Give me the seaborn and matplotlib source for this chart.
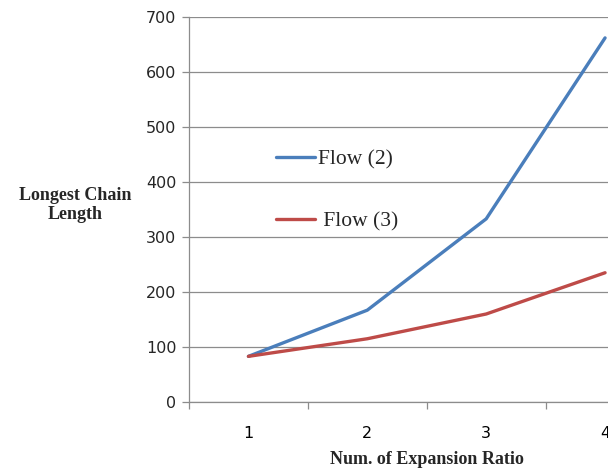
import matplotlib
matplotlib.use("Agg")
import matplotlib.pyplot as plt
import seaborn as sns
import pandas as pd
from matplotlib.ticker import FixedLocator

# Data
ratios = [1, 2, 3, 4]
flow2 = [83, 167, 333, 662]
flow3 = [83, 115, 160, 235]
series_names = ["Flow (2)", "Flow (3)"]
y_ticks = [0, 100, 200, 300, 400, 500, 600, 700]

df = pd.DataFrame({
    "ratio": ratios * 2,
    "length": flow2 + flow3,
    "series": [series_names[0]] * len(ratios) + [series_names[1]] * len(ratios),
})

sns.set_style("white")
plt.rcParams["font.family"] = ["DejaVu Sans"]

fig = plt.figure(figsize=(6.08, 4.73), dpi=100)
# the plot area runs past the right edge of the figure
ax = fig.add_axes([189 / 608, 1 - 402 / 473, 475.5 / 608, 385 / 473])

palette = {series_names[0]: "#4A7EBB", series_names[1]: "#BE4B48"}
sns.lineplot(data=df, x="ratio", y="length", hue="series", palette=palette,
             linewidth=2.4, ax=ax, legend=True)

grid_col = "#8C8C8C"
ax.set_xlim(0.5, 4.5)
ax.set_ylim(0, 700)
ax.set_yticks(y_ticks)
ax.yaxis.grid(True, color=grid_col, linewidth=0.9)
ax.set_axisbelow(True)

ax.set_xticks(ratios)
ax.xaxis.set_minor_locator(FixedLocator([0.5, 1.5, 2.5, 3.5, 4.5]))
ax.tick_params(axis="x", which="major", length=0, pad=17, labelsize=11.5, colors="#000000")
ax.tick_params(axis="x", which="minor", length=5, width=0.9, color=grid_col, direction="out")
ax.tick_params(axis="y", length=5, width=0.9, color=grid_col, direction="out", labelsize=11.5, pad=4)
ax.tick_params(axis="x", bottom=True, which="both")
ax.tick_params(axis="y", left=True)

for s in ["top", "right"]:
    ax.spines[s].set_visible(False)
for s in ["left", "bottom"]:
    ax.spines[s].set_color(grid_col)
    ax.spines[s].set_linewidth(0.9)

ax.set_xlabel("Num. of Expansion Ratio", fontfamily="Liberation Serif",
              fontweight="bold", fontsize=13)
ax.set_ylabel("")
ax.xaxis.set_label_coords((427 - 189) / 475.5, (402 - 460) / 385)
ax.xaxis.label.set_va("center")
fig.text(75 / 608, 1 - 205 / 473, "Longest Chain\nLength", ha="center", va="center",
         fontfamily="Liberation Serif", fontweight="bold", fontsize=13, linespacing=1.15)

old = ax.get_legend()
handles = old.legend_handles if hasattr(old, "legend_handles") else old.legendHandles
old.remove()
leg = ax.legend(handles, [series_names[0], " " + series_names[1]],
                loc="upper left", bbox_to_anchor=((276 - 189) / 475.5, (402 - 149) / 385),
                frameon=False, borderpad=0, borderaxespad=0,
                prop={"family": "Liberation Serif", "size": 15.5},
                handlelength=1.8, handletextpad=0.15, labelspacing=1.95)
for line in leg.get_lines():
    line.set_linewidth(2.4)

fig.savefig("out.png", dpi=100)
